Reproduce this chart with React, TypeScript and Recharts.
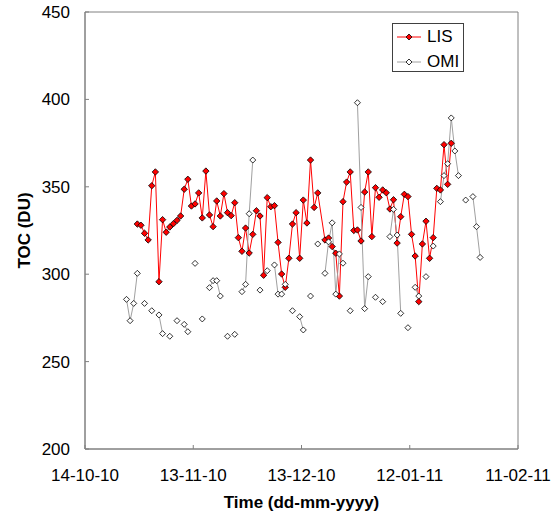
import React from 'react';
import { LineChart, Line, XAxis, YAxis, ReferenceArea, Legend } from 'recharts';

// x axis: days after 14-10-10, one tick every 30 days
const tickDays = [0, 30, 60, 90, 120];
const tickDates = ['14-10-10', '13-11-10', '13-12-10', '12-01-11', '11-02-11'];
const tocTicks = [200, 250, 300, 350, 400, 450];

// LIS, daily from day 14 (null = missing day, line is drawn across it)
const lisFirstDay = 14;
const lisToc = [
  328.7, 328, 323.4, 319.6, 350.6, 358.5, 295.7, 331.2, 324, 327,
  328.9, 330.8, 333.3, 348.6, 354.3, 339, 340.2, 346.5, 332.2, 359,
  333.9, 327.2, 341.9, 333.3, 346.1, 335.2, 333.5, 340.9, 320.9, 313.1,
  326.4, 312.1, 322.8, 336.3, 333.3, 299.4, 343.8, 338.6, 339.2, 318.2,
  300.1, 292.5, 309.1, 328.7, 335.2, 309.1, 342.4, 329.3, 365.3, 338.2,
  346.5, null, 319.6, 320.7, 315.8, 312, 287.5, 341.5, 352.7, 358.5,
  325, 325.3, 319, 347, 358.5, 321.5, 349.5, 344, 348.2, 346.6,
  337.3, 342.6, 317.8, 332.9, 345.7, 344.4, 322.8, 310.4, 284.3, 317.3,
  330.3, 309.1, 320.9, 349.1, 348.2, 374.1, 351.4, 374.9,
];

// OMI, daily from day 11 (null = no overpass, line breaks there)
const omiFirstDay = 11;
const omiToc = [
  285.6, 273.4, 283.3, 300.5, null, 283.3, null, 279.1, null, 276.7,
  266, null, 264.5, null, 273.4, null, 271.3, 267.1, null, 306.2,
  null, 274.4, null, 292.3, 296.3, 296.3, 287.5, null, 264.5, null,
  265.6, null, 290, 294.2, 334.6, 365.3, null, 290.9, null, 302,
  null, 305.3, 288.6, 288.6, 294.2, null, 279.1, null, 275.7, 268.1,
  null, 287.5, null, 317.3, null, 300.5, 318.5, 329.4, 288.6, 311.6,
  306.3, null, 279.1, null, 398.1, 338.2, 280.3, 298.6, null, 286.8,
  null, 284.3, null, 321.5, 337.1, 322.4, 277.6, null, 269.4, null,
  292.5, 287.5, null, 298.6, null, 316.1, null, 341.5, 356.4, 363.2,
  389.4, 370.5, 356.4, null, 342.4, null, 344.4, 327.2, 309.6,
];

const FONT = '"Liberation Sans", Arial, sans-serif';
const AXIS = '#808080';

const rows: { day: number; lis: number | null; omi: number | null }[] = [];
for (let i = 0; i < omiToc.length; i++) {
  const d = omiFirstDay + i;
  const lis = lisToc[d - lisFirstDay];
  rows.push({ day: d + 0.5, lis: lis === undefined ? null : lis, omi: omiToc[i] });
}

function diamondDot(fill: string, r: number) {
  return (props: any) => {
    const { cx, cy, index, value } = props;
    if (cx == null || cy == null || value == null) return <g key={`e${index}`} />;
    return (
      <polygon
        key={`d${index}`}
        points={`${cx},${cy - r} ${cx + r},${cy} ${cx},${cy + r} ${cx - r},${cy}`}
        fill={fill}
        stroke="#000"
        strokeWidth={0.8}
      />
    );
  };
}

const XTick = (props: any) => {
  const { x, y, payload } = props;
  const label = tickDates[tickDays.indexOf(payload.value)];
  return (
    <g>
      <line x1={x} x2={x} y1={y} y2={y - 4} stroke={AXIS} />
      <text x={x} y={y + 32} textAnchor="middle" fontSize={17} fontFamily={FONT} fill="#000">
        {label}
      </text>
    </g>
  );
};

const YTick = (props: any) => {
  const { x, y, payload } = props;
  return (
    <g>
      <line x1={x} x2={x + 4} y1={y} y2={y} stroke={AXIS} />
      <text x={x - 15} y={y + 6} textAnchor="end" fontSize={17} fontFamily={FONT} fill="#000">
        {payload.value}
      </text>
    </g>
  );
};

const YTitle = (props: any) => {
  const { viewBox } = props;
  const cx = viewBox.x + 24;
  const cy = viewBox.y + viewBox.height / 2;
  return (
    <text
      transform={`translate(${cx},${cy}) rotate(-90)`}
      textAnchor="middle"
      dominantBaseline="central"
      fontSize={17}
      fontWeight="bold"
      fontFamily={FONT}
      fill="#000"
    >
      TOC (DU)
    </text>
  );
};

const seriesStyle: Record<string, { line: string; fill: string }> = {
  LIS: { line: '#ff0000', fill: '#ff0000' },
  OMI: { line: '#a0a0a0', fill: '#ffffff' },
};

const renderLegend = (props: any) => {
  const items = [...(props.payload || [])].sort((a, b) => String(a.value).localeCompare(String(b.value)));
  return (
    <div
      style={{
        position: 'relative',
        width: 72,
        height: 49,
        boxSizing: 'border-box',
        border: '1px solid #404040',
        background: '#fff',
      }}
    >
      {items.map((entry: any, i: number) => {
        const s = seriesStyle[entry.value] || { line: entry.color, fill: entry.color };
        return (
          <div
            key={entry.value}
            style={{ position: 'absolute', left: 4, top: 3 + i * 25, height: 20, display: 'flex', alignItems: 'center' }}
          >
            <svg width={26} height={10} style={{ display: 'block' }}>
              <line x1={0} x2={24} y1={5} y2={5} stroke={s.line} strokeWidth={1} />
              <polygon points="12,2 15,5 12,8 9,5" fill={s.fill} stroke="#000" strokeWidth={0.8} />
            </svg>
            <span style={{ fontFamily: FONT, fontSize: 17, marginLeft: 4, lineHeight: '20px', color: '#000' }}>
              {entry.value}
            </span>
          </div>
        );
      })}
    </div>
  );
};

export default function App() {
  return (
    <div style={{ position: 'absolute', left: 0, top: 0, width: 557, height: 517, background: '#fff' }}>
      <LineChart width={557} height={517} data={rows} margin={{ top: 12, right: 39, bottom: 0, left: 0 }}>
        <XAxis
          type="number"
          dataKey="day"
          domain={[0, 120]}
          ticks={tickDays}
          interval={0}
          height={68}
          tickSize={0}
          tickMargin={0}
          tick={<XTick />}
          axisLine={{ stroke: AXIS }}
          label={{
            value: 'Time (dd-mm-yyyy)',
            position: 'insideBottom',
            offset: 9,
            style: { fontSize: 17, fontWeight: 'bold', fontFamily: FONT, fill: '#000' },
          }}
        />
        <YAxis
          type="number"
          domain={[200, 450]}
          ticks={tocTicks}
          interval={0}
          width={85}
          tickSize={0}
          tickMargin={0}
          tick={<YTick />}
          axisLine={{ stroke: AXIS }}
          label={{ content: <YTitle /> }}
        />
        <ReferenceArea x1={0} x2={120} y1={200} y2={450} fill="none" stroke={AXIS} ifOverflow="visible" />
        <Line
          type="linear"
          dataKey="lis"
          name="LIS"
          stroke="#ff0000"
          strokeWidth={1}
          connectNulls
          dot={diamondDot('#ff0000', 3.2)}
          activeDot={false}
          isAnimationActive={false}
        />
        <Line
          type="linear"
          dataKey="omi"
          name="OMI"
          stroke="#a0a0a0"
          strokeWidth={1}
          dot={diamondDot('#ffffff', 3)}
          activeDot={false}
          isAnimationActive={false}
        />
        <Legend
          layout="vertical"
          align="center"
          verticalAlign="middle"
          content={renderLegend}
          wrapperStyle={{ position: 'absolute', left: 392, top: 23, width: 72, height: 49 }}
        />
      </LineChart>
    </div>
  );
}
